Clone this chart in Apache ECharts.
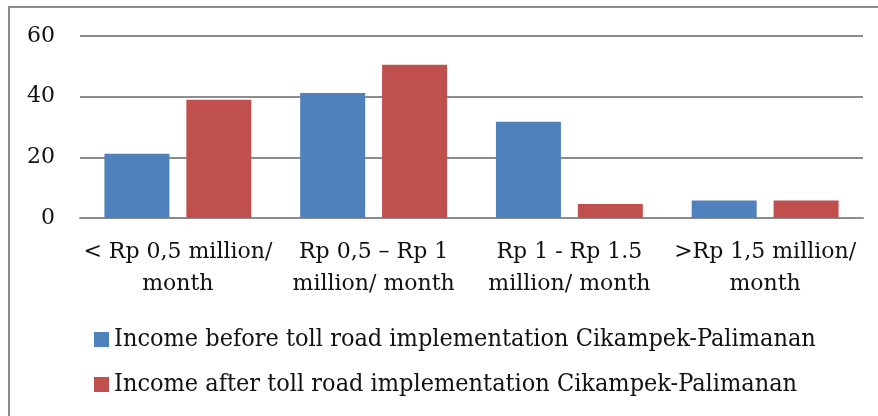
<!DOCTYPE html>
<html>
<head>
<meta charset="utf-8">
<script src="https://cdn.jsdelivr.net/npm/echarts@6/dist/echarts.min.js"></script>
<style>
  html, body { margin: 0; padding: 0; background: #fff; }
  #chart { width: 878px; height: 416px; }
</style>
</head>
<body>
<div id="chart"></div>
<script>
var categories = ['< Rp 0,5 million/\nmonth', 'Rp 0,5 – Rp 1\nmillion/ month', 'Rp 1 - Rp 1.5\nmillion/ month', '>Rp 1,5 million/\nmonth']
var beforeValues = [21.2, 41.2, 31.7, 5.8]
var afterValues = [39, 50.5, 4.6, 5.8]
var seriesNames = ['Income before toll road implementation Cikampek-Palimanan', 'Income after toll road implementation Cikampek-Palimanan']

var font = 'DejaVu Serif'
var myChart = echarts.init(document.getElementById('chart'))

var option = {
  animation: false,
  textStyle: { fontFamily: font },
  graphic: [{
    type: 'polyline',
    shape: { points: [[9, 420], [9, 7], [880, 7]] },
    style: { stroke: '#8c8c8c', lineWidth: 2, fill: null }
  }],
  grid: { left: 80, right: 15, top: 36, bottom: 198 },
  legend: {
    orient: 'vertical',
    left: 94,
    top: 327,
    padding: 0,
    itemWidth: 15,
    itemHeight: 15,
    itemGap: 20,
    itemTextGap: 6,
    icon: 'rect',
    textStyle: { fontFamily: 'DejaVu Serif Condensed', fontSize: 25, color: '#111' },
    data: seriesNames
  },
  xAxis: {
    type: 'category',
    data: categories,
    axisTick: { show: false },
    axisLine: { lineStyle: { color: '#8c8c8c', width: 2 } },
    axisLabel: { color: '#111', fontSize: 22, lineHeight: 32, margin: 18, interval: 0, fontFamily: font }
  },
  yAxis: {
    type: 'value',
    min: 0,
    max: 60,
    interval: 20,
    axisLine: { show: false },
    axisTick: { show: false },
    splitLine: { lineStyle: { color: '#8c8c8c', width: 2 } },
    axisLabel: { color: '#111', fontSize: 22, margin: 25, fontFamily: font }
  },
  series: [
    {
      name: seriesNames[0],
      type: 'bar',
      data: beforeValues,
      barWidth: 65,
      barGap: '26%',
      itemStyle: { color: '#4f81bd' }
    },
    {
      name: seriesNames[1],
      type: 'bar',
      data: afterValues,
      barWidth: 65,
      barGap: '26%',
      itemStyle: { color: '#c0504d' }
    }
  ]
}

myChart.setOption(option)
</script>
</body>
</html>
